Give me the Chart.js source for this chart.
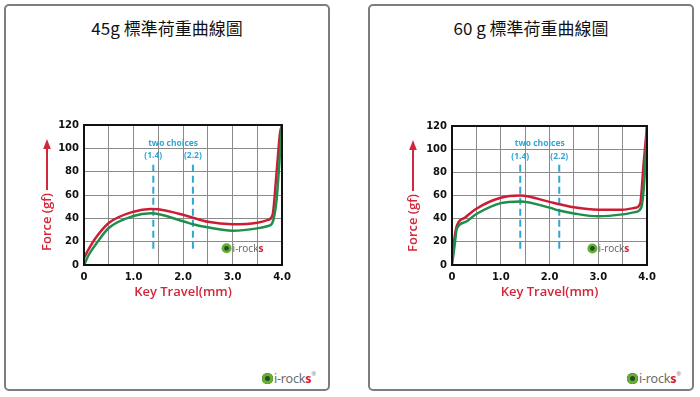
<!DOCTYPE html>
<html>
<head>
<meta charset="utf-8">
<script src="https://cdn.jsdelivr.net/npm/chart.js@4/dist/chart.umd.min.js"></script>
<style>
  html, body { margin:0; padding:0; background:#fff; }
  body { width:700px; height:397px; position:relative; overflow:hidden; }
  .panel { position:absolute; top:4px; width:326px; height:387px; border:2px solid #7d7d7d; border-radius:5px; box-sizing:border-box; background:#fff; }
  .title { position:absolute; top:17px; height:22px; line-height:22px; width:326px; text-align:center; font-family:"Noto Sans CJK TC","Noto Sans",sans-serif; font-size:17px; font-weight:400; color:#111; }
  canvas { position:absolute; }
  .logo { position:absolute; top:366px; height:16px; font-family:"Noto Sans","DejaVu Sans",sans-serif; font-size:12.5px; color:#6a6a6a; line-height:16px; white-space:nowrap; letter-spacing:-0.2px; }
  .logo .dot { display:inline-block; width:11px; height:11px; border-radius:50%; background:#5fb233; vertical-align:-1px; margin-right:1px; box-shadow: inset 0 0 0 3px #5fb233, inset 0 0 0 6px #2f4a22; }
  .logo .s { color:#d3202e; font-weight:700; }
  .logo sup { font-size:6px; vertical-align:7px; color:#888; }
</style>
</head>
<body>
<div class="panel" style="left:4px"></div>
<div class="panel" style="left:368px"></div>
<div class="title" style="left:4px">45g 標準荷重曲線圖</div>
<div class="title" style="left:368px">60 g 標準荷重曲線圖</div>
<canvas id="c45" width="320" height="200" style="left:6px;top:110px"></canvas>
<canvas id="c60" width="320" height="200" style="left:371px;top:110px"></canvas>
<div class="logo" style="left:262px"><span class="dot"></span>i-rock<span class="s">s</span><sup>®</sup></div>
<div class="logo" style="left:627px"><span class="dot"></span>i-rock<span class="s">s</span><sup>®</sup></div>
<script>
// ---- data ----
const xTickLabels = ['0', '1.0', '2.0', '3.0', '4.0'];
const yTicks = [0, 20, 40, 60, 80, 100, 120];

// 45g chart
const travel45Red   = [0, 0.1, 0.25, 0.5, 1.0, 1.35, 1.5, 2.0, 2.2, 2.5, 3.0, 3.5, 3.72, 3.81, 3.89, 3.96, 4.0];
const force45Red    = [6, 14, 24, 36, 45.7, 48, 47.7, 43, 40.5, 37, 35, 36.3, 38.6, 43, 79, 113, 120];
const travel45Green = [0, 0.1, 0.26, 0.5, 1.0, 1.35, 2.0, 2.2, 2.5, 3.0, 3.5, 3.72, 3.8, 3.89, 3.96, 4.0];
const force45Green  = [0, 9, 19, 31.7, 42, 44.3, 37.5, 35, 32.3, 29.4, 31.4, 33.4, 35.7, 55.7, 95.7, 120];

// 60g chart
const travel60Red   = [0, 0.05, 0.1, 0.27, 0.5, 1.0, 1.4, 2.0, 2.2, 2.5, 3.0, 3.5, 3.76, 3.86, 3.93, 4.0];
const force60Red    = [6, 23, 34, 41, 48.6, 58, 60, 54.5, 52.5, 49.8, 47.8, 47.8, 49.4, 52.9, 87, 120];
const travel60Green = [0, 0.05, 0.1, 0.27, 0.5, 1.0, 1.4, 2.0, 2.2, 2.5, 3.0, 3.5, 3.76, 3.88, 3.95, 4.0];
const force60Green  = [0, 15.7, 31.4, 37, 44, 53.4, 54.9, 49.5, 47, 44.5, 42, 43.7, 45.7, 49.4, 75.7, 120];

// "two choices" markers
const choices = [1.4, 2.2];
const choiceLabels = ['(1.4)', '(2.2)'];
const choiceRange = [14, 87];

// ---- helpers ----
const RED = '#cc1d35', GREEN = '#1f8e4c', CYAN = '#2ea7d4', AXISRED = '#d3263a';
const pts = (xs, ys) => xs.map((x, i) => ({x, y: ys[i]}));

const deco = {
  id: 'deco',
  afterDatasetsDraw(chart, args, o) {
    const {ctx, chartArea: ca, scales: {x, y}} = chart;
    ctx.save();
    // frame
    ctx.strokeStyle = '#111';
    ctx.lineWidth = 2;
    ctx.strokeRect(ca.left, ca.top, ca.right - ca.left, ca.bottom - ca.top);
    // choice labels
    ctx.fillStyle = CYAN;
    ctx.textAlign = 'center';
    ctx.textBaseline = 'middle';
    ctx.font = 'bold 8.5px "Open Sans", sans-serif';
    ctx.fillText('two choices', x.getPixelForValue((choices[0] + choices[1]) / 2), y.getPixelForValue(104.5));
    choices.forEach((c, i) => ctx.fillText(choiceLabels[i], x.getPixelForValue(c), y.getPixelForValue(93.5)));
    // small logo inside plot
    const lx = x.getPixelForValue(2.88), ly = y.getPixelForValue(14.3);
    ctx.fillStyle = '#5fb233';
    ctx.beginPath(); ctx.arc(lx, ly, 5, 0, Math.PI * 2); ctx.fill();
    ctx.fillStyle = '#2f4a22';
    ctx.beginPath(); ctx.arc(lx, ly, 2.4, 0, Math.PI * 2); ctx.fill();
    ctx.font = '10px "Noto Sans", sans-serif';
    ctx.textAlign = 'left';
    ctx.fillStyle = '#6a6a6a';
    ctx.fillText('i-rock', lx + 6, ly + 0.5);
    const w = ctx.measureText('i-rock').width;
    ctx.fillStyle = '#d3202e';
    ctx.font = 'bold 10px "Noto Sans", sans-serif';
    ctx.fillText('s', lx + 6 + w, ly + 0.5);
    ctx.restore();
  },
  afterDraw(chart, args, o) {
    const {ctx, chartArea: ca} = chart;
    ctx.save();
    const ax = ca.left - o.labelOffset;
    ctx.strokeStyle = AXISRED;
    ctx.fillStyle = AXISRED;
    ctx.lineWidth = 2;
    ctx.beginPath(); ctx.moveTo(ax, ca.top + 65); ctx.lineTo(ax, ca.top + 22); ctx.stroke();
    ctx.beginPath(); ctx.moveTo(ax, ca.top + 14); ctx.lineTo(ax - 3.8, ca.top + 24); ctx.lineTo(ax + 3.8, ca.top + 24); ctx.closePath(); ctx.fill();
    ctx.translate(ax, ca.top + 97);
    ctx.rotate(-Math.PI / 2);
    ctx.textAlign = 'center';
    ctx.textBaseline = 'middle';
    ctx.font = '600 13px "Open Sans", sans-serif';
    ctx.fillText('Force (gf)', 0, 0);
    ctx.restore();
  }
};

function makeChart(id, redX, redY, greenX, greenY, yWidth, padTop, labelOffset) {
  const datasets = [
    {data: pts(greenX, greenY), borderColor: GREEN, borderWidth: 2.5, pointRadius: 0, cubicInterpolationMode: 'monotone', fill: false},
    {data: pts(redX, redY), borderColor: RED, borderWidth: 2.5, pointRadius: 0, cubicInterpolationMode: 'monotone', fill: false}
  ];
  choices.forEach(c => datasets.push({
    data: [{x: c, y: choiceRange[0]}, {x: c, y: choiceRange[1]}],
    borderColor: CYAN, borderWidth: 2, borderDash: [7, 4], pointRadius: 0, fill: false
  }));
  return new Chart(document.getElementById(id), {
    type: 'line',
    data: {datasets},
    options: {
      responsive: false,
      animation: false,
      events: [],
      layout: {padding: {left: 0, right: 44, top: padTop, bottom: 0}},
      plugins: {legend: {display: false}, tooltip: {enabled: false}, deco: {labelOffset}},
      scales: {
        x: {
          type: 'linear', min: 0, max: 4,
          afterFit: s => { s.height = 45; },
          grid: {color: '#8a8a8a', lineWidth: 1, drawTicks: false},
          border: {display: false},
          ticks: {
            stepSize: 0.5, padding: 6, autoSkip: false, maxRotation: 0,
            color: '#111', font: {family: '"DejaVu Sans", sans-serif', size: 10, weight: 'bold'},
            callback: v => (Math.abs(v - Math.round(v)) < 1e-9 ? xTickLabels[Math.round(v)] : '')
          },
          title: {display: true, text: 'Key Travel(mm)', color: AXISRED,
                  font: {family: '"Open Sans", sans-serif', size: 13, weight: '600'},
                  padding: {top: 0, bottom: 10}}
        },
        y: {
          min: 0, max: 120,
          afterFit: s => { s.width = yWidth; },
          grid: {color: '#8a8a8a', lineWidth: 1, drawTicks: false},
          border: {display: false},
          afterBuildTicks: s => { s.ticks = yTicks.map(v => ({value: v})); },
          ticks: {
            padding: 5, color: '#111',
            font: {family: '"DejaVu Sans", sans-serif', size: 10, weight: 'bold'}
          }
        }
      }
    },
    plugins: [deco]
  });
}

makeChart('c45', travel45Red, force45Red, travel45Green, force45Green, 78, 15, 37);
makeChart('c60', travel60Red, force60Red, travel60Green, force60Green, 81, 16, 39);
</script>
</body>
</html>
